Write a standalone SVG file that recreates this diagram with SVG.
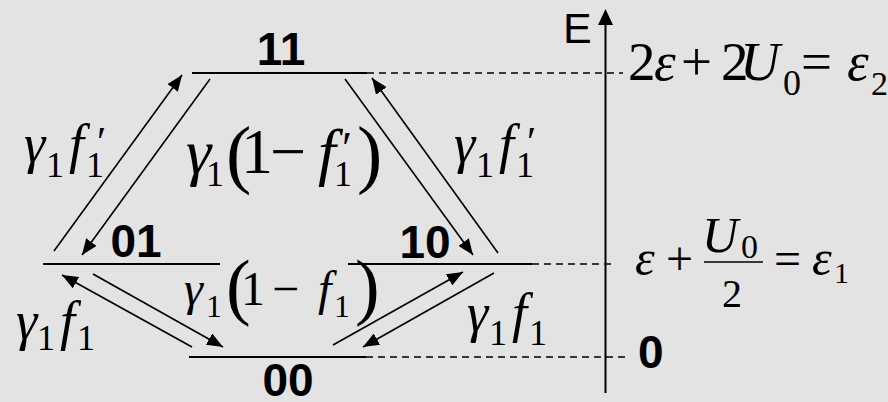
<svg xmlns="http://www.w3.org/2000/svg" width="888" height="402" viewBox="0 0 888 402">
<defs>
<marker id="ah" markerUnits="userSpaceOnUse" markerWidth="16" markerHeight="13" refX="16" refY="6.5" orient="auto">
<path d="M0,0 L16,6.5 L0,13 z" fill="#000"/>
</marker>
</defs>
<rect width="888" height="402" fill="#e3e3e3"/>

<g id="node-11">
<line x1="192" y1="73" x2="367" y2="73" stroke="#000" stroke-width="2"/>
<text x="281" y="65" text-anchor="middle" font-family="Liberation Sans, sans-serif" font-weight="bold" font-size="46">11</text>
</g>
<g id="node-01">
<line x1="43" y1="264" x2="220" y2="264" stroke="#000" stroke-width="2"/>
<text x="136" y="257" text-anchor="middle" font-family="Liberation Sans, sans-serif" font-weight="bold" font-size="46">01</text>
</g>
<g id="node-10">
<line x1="348" y1="264" x2="532" y2="264" stroke="#000" stroke-width="2"/>
<text x="425" y="258" text-anchor="middle" font-family="Liberation Sans, sans-serif" font-weight="bold" font-size="46">10</text>
</g>
<g id="node-00">
<line x1="189" y1="357" x2="366" y2="357" stroke="#000" stroke-width="2"/>
<text x="288" y="396" text-anchor="middle" font-family="Liberation Sans, sans-serif" font-weight="bold" font-size="46">00</text>
</g>

<g id="axis" stroke="#000">
<line x1="367" y1="73" x2="623" y2="73" stroke-width="1.3" stroke-dasharray="7 5"/>
<line x1="532" y1="264" x2="616" y2="264" stroke-width="1.3" stroke-dasharray="7 5"/>
<line x1="366" y1="357" x2="630" y2="357" stroke-width="1.3" stroke-dasharray="7 5"/>
<line x1="605.5" y1="393" x2="605.5" y2="22" stroke-width="2"/>
<polygon points="605.5,9 598,25 613,25" fill="#000" stroke="none"/>
</g>
<text x="563" y="43" font-family="Liberation Sans, sans-serif" font-size="43">E</text>
<text x="638" y="368" font-family="Liberation Sans, sans-serif" font-weight="bold" font-size="46">0</text>

<g id="connectors" stroke="#000" stroke-width="1.6" marker-end="url(#ah)">
<line x1="54" y1="251" x2="182" y2="75"/>
<line x1="210" y1="79" x2="82" y2="255"/>
<line x1="345" y1="79" x2="473" y2="255"/>
<line x1="498" y1="253" x2="372" y2="78"/>
<line x1="192" y1="347" x2="62" y2="275"/>
<line x1="93" y1="274" x2="223" y2="347"/>
<line x1="333" y1="345" x2="463" y2="272"/>
<line x1="494" y1="273" x2="363" y2="347"/>
</g>

<g id="rate-labels" fill="#000">
<text x="24" y="162" font-family="Liberation Serif, serif" font-style="italic" font-size="54">γ</text>
<text x="46" y="177" font-family="Liberation Serif, serif" font-size="36">1</text>
<text x="69" y="162" font-family="Liberation Serif, serif" font-style="italic" font-size="54">f</text>
<text x="86" y="177" font-family="Liberation Serif, serif" font-size="36">1</text>
<text x="97" y="156" font-family="Liberation Serif, serif" font-size="42">′</text>

<text x="454" y="162" font-family="Liberation Serif, serif" font-style="italic" font-size="54">γ</text>
<text x="476" y="177" font-family="Liberation Serif, serif" font-size="36">1</text>
<text x="499" y="162" font-family="Liberation Serif, serif" font-style="italic" font-size="54">f</text>
<text x="516" y="177" font-family="Liberation Serif, serif" font-size="36">1</text>
<text x="527" y="156" font-family="Liberation Serif, serif" font-size="42">′</text>

<text x="186" y="173" font-family="Liberation Serif, serif" font-style="italic" font-size="64">γ</text>
<text x="206" y="186" font-family="Liberation Serif, serif" font-size="36">1</text>
<text x="226" y="179" font-family="Liberation Serif, serif" font-size="76">(</text>
<text x="241" y="173" font-family="Liberation Serif, serif" font-size="64">1</text>
<text x="270" y="173" font-family="Liberation Serif, serif" font-size="64">−</text>
<text x="318" y="173" font-family="Liberation Serif, serif" font-style="italic" font-size="64">f</text>
<text x="334" y="186" font-family="Liberation Serif, serif" font-size="36">1</text>
<text x="342" y="164" font-family="Liberation Serif, serif" font-size="46">′</text>
<text x="357" y="179" font-family="Liberation Serif, serif" font-size="76">)</text>

<text x="184" y="305" font-family="Liberation Serif, serif" font-style="italic" font-size="48">γ</text>
<text x="206" y="317" font-family="Liberation Serif, serif" font-size="32">1</text>
<text x="226" y="311" font-family="Liberation Serif, serif" font-size="74">(</text>
<text x="241" y="305" font-family="Liberation Serif, serif" font-size="48">1</text>
<text x="272" y="305" font-family="Liberation Serif, serif" font-size="48">−</text>
<text x="318" y="305" font-family="Liberation Serif, serif" font-style="italic" font-size="48">f</text>
<text x="334" y="317" font-family="Liberation Serif, serif" font-size="32">1</text>
<text x="355" y="311" font-family="Liberation Serif, serif" font-size="74">)</text>

<text x="16" y="339" font-family="Liberation Serif, serif" font-style="italic" font-size="54">γ</text>
<text x="37" y="350" font-family="Liberation Serif, serif" font-size="36">1</text>
<text x="60" y="339" font-family="Liberation Serif, serif" font-style="italic" font-size="54">f</text>
<text x="77" y="350" font-family="Liberation Serif, serif" font-size="36">1</text>

<text x="467" y="331" font-family="Liberation Serif, serif" font-style="italic" font-size="54">γ</text>
<text x="489" y="345" font-family="Liberation Serif, serif" font-size="36">1</text>
<text x="512" y="331" font-family="Liberation Serif, serif" font-style="italic" font-size="54">f</text>
<text x="529" y="345" font-family="Liberation Serif, serif" font-size="36">1</text>
</g>

<g id="energy-labels" fill="#000">
<text x="628" y="80" font-family="Liberation Serif, serif" font-size="55">2</text>
<text x="654" y="80" font-family="Liberation Serif, serif" font-style="italic" font-size="55">ε</text>
<text x="681" y="80" font-family="Liberation Serif, serif" font-size="55">+</text>
<text x="721" y="80" font-family="Liberation Serif, serif" font-size="55">2</text>
<text x="740" y="80" font-family="Liberation Serif, serif" font-style="italic" font-size="55">U</text>
<text x="783" y="95" font-family="Liberation Serif, serif" font-size="36">0</text>
<text x="801" y="80" font-family="Liberation Serif, serif" font-size="55">=</text>
<text x="847" y="80" font-family="Liberation Serif, serif" font-style="italic" font-size="55">ε</text>
<text x="871" y="95" font-family="Liberation Serif, serif" font-size="34">2</text>

<text x="635" y="275" font-family="Liberation Serif, serif" font-style="italic" font-size="50">ε</text>
<text x="666" y="275" font-family="Liberation Serif, serif" font-size="48">+</text>
<text x="702" y="252" font-family="Liberation Serif, serif" font-style="italic" font-size="50">U</text>
<text x="741" y="258" font-family="Liberation Serif, serif" font-size="34">0</text>
<line x1="704" y1="262" x2="763" y2="262" stroke="#000" stroke-width="1.6"/>
<text x="722" y="307" font-family="Liberation Serif, serif" font-size="40">2</text>
<text x="774" y="275" font-family="Liberation Serif, serif" font-size="48">=</text>
<text x="812" y="275" font-family="Liberation Serif, serif" font-style="italic" font-size="50">ε</text>
<text x="834" y="283" font-family="Liberation Serif, serif" font-size="30">1</text>
</g>
</svg>
